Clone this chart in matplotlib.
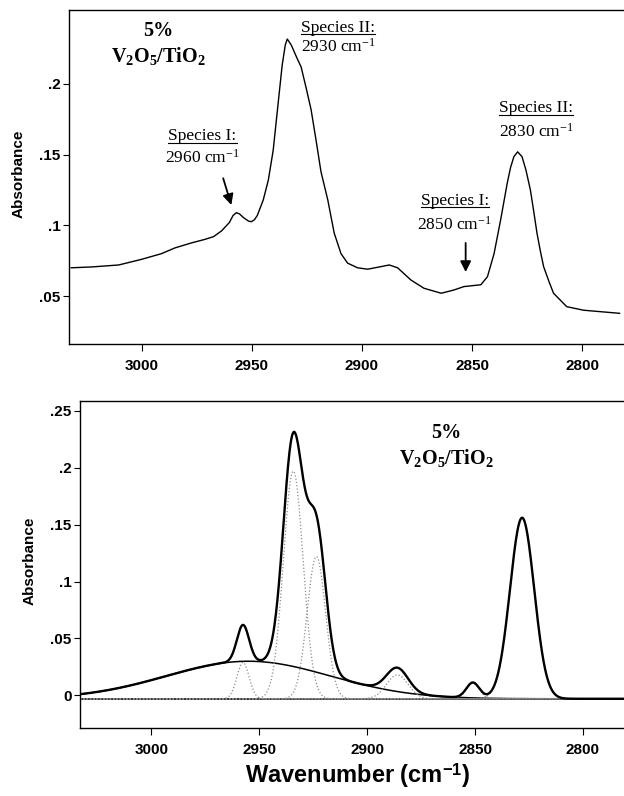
"""Recreate the V2O5/TiO2 C-H stretch spectrum with its peak deconvolution."""

import matplotlib
matplotlib.use("Agg")
import matplotlib.pyplot as plt
from matplotlib.lines import Line2D
from matplotlib.ticker import FuncFormatter
import numpy as np

plt.rcParams["font.family"] = ["Liberation Sans", "DejaVu Sans"]
plt.rcParams["mathtext.fontset"] = "custom"
plt.rcParams["mathtext.rm"] = "Liberation Serif"
plt.rcParams["mathtext.it"] = "Liberation Serif:italic"
plt.rcParams["mathtext.bf"] = "Liberation Serif:bold"
plt.rcParams["mathtext.sf"] = "Liberation Sans:bold"

spec_wn = [3032, 3022.6, 3010.4, 3000, 2991, 2985, 2977.4, 2971.5, 2967.4, 2963.8,
           2960.2, 2958.5, 2957, 2955.5, 2953.8, 2951.5, 2950.2, 2948.8, 2947.5, 2944.8,
           2942.5, 2940.3, 2938, 2936.2, 2934.8, 2933.9, 2932.1, 2929.4, 2927.6, 2925.3,
           2923.1, 2920.8, 2918.6, 2915.5, 2912.6, 2909.5, 2906.5, 2902, 2897.4, 2891.4,
           2887.6, 2883.8, 2877.8, 2871.8, 2864, 2858.2, 2853.7, 2846, 2843, 2840,
           2838.5, 2837, 2835.5, 2834, 2832.5, 2831, 2829.3, 2827.3, 2825.5, 2823.5,
           2822, 2820.5, 2819, 2817.5, 2815, 2813, 2807, 2799.4, 2792, 2783]
spec_abs = [0.070, 0.0706, 0.072, 0.076, 0.080, 0.084, 0.0876, 0.090, 0.092, 0.096,
            0.102, 0.107, 0.109, 0.108, 0.1055, 0.103, 0.1026, 0.104, 0.107, 0.118,
            0.132, 0.153, 0.187, 0.2134, 0.2276, 0.2318, 0.2276, 0.218, 0.212, 0.197,
            0.182, 0.160, 0.138, 0.118, 0.0946, 0.080, 0.0733, 0.070, 0.069, 0.0708,
            0.072, 0.070, 0.0614, 0.0555, 0.052, 0.0543, 0.0567, 0.058, 0.0637, 0.080,
            0.092, 0.104, 0.117, 0.130, 0.141, 0.1486, 0.152, 0.1486, 0.139, 0.125,
            0.110, 0.0944, 0.082, 0.0708, 0.060, 0.052, 0.0425, 0.040, 0.039, 0.0378]

# bottom panel: fitted gaussian components (centre, height, sigma)
peak_centre = [2955, 2957.5, 2934.2, 2923.5, 2886, 2851, 2828.2]
peak_height = [0.033, 0.032, 0.200, 0.125, 0.021, 0.0135, 0.159]
peak_sigma = [38, 2.8, 4.6, 4.3, 5.0, 3.0, 5.6]
fit_baseline = -0.003

top_yticks = [0.05, 0.1, 0.15, 0.2]
bot_yticks = [0, 0.05, 0.1, 0.15, 0.2, 0.25]
xticks = [3000, 2950, 2900, 2850, 2800]

TICK_FONT = dict(family="Liberation Sans", weight="bold", size=11)
SERIF = ["Liberation Serif", "DejaVu Serif"]


def abs_fmt(v, _):
    return "0" if abs(v) < 1e-9 else f"{v:g}".lstrip("0")


def style_axes(ax, yticks):
    ax.spines["right"].set_visible(False)
    for s in ("left", "top", "bottom"):
        ax.spines[s].set_linewidth(1.0)
    ax.set_xlim(3033, 2781)
    ax.set_xticks(xticks)
    ax.set_yticks(yticks)
    ax.yaxis.set_major_formatter(FuncFormatter(abs_fmt))
    ax.tick_params(direction="out", length=4, width=0.8, pad=2)
    ax.tick_params(axis="x", length=5, pad=6)
    for lab in ax.get_xticklabels() + ax.get_yticklabels():
        lab.set_fontproperties(TICK_FONT)
    ax.set_ylabel("Absorbance", fontsize=11, fontweight="bold")
    ax.yaxis.set_label_coords(-0.079, 0.51)


def sample_label(ax, x, y1, y2):
    ax.text(x, y1, "5%", family=SERIF, weight="bold", size=14.5, ha="center", va="center")
    ax.text(x, y2, r"V$_\mathbf{2}$O$_\mathbf{5}$/TiO$_\mathbf{2}$", family=SERIF,
            weight="bold", size=14.5, ha="center", va="center")


def main():
    fig = plt.figure(figsize=(6.24, 7.96), dpi=100)
    ax1 = fig.add_axes([0.1106, 0.5682, 0.8894, 0.4192])
    ax2 = fig.add_axes([0.1282, 0.0854, 0.8718, 0.4108])

    # --- top: raw spectrum ---
    ax1.plot(spec_wn, spec_abs, color="black", lw=1.0)
    ax1.set_ylim(0.0163, 0.2523)
    style_axes(ax1, top_yticks)
    sample_label(ax1, 2992.3, 0.2375, 0.2198)

    species = [
        ("Species I:", 2972.4, 0.1632, 0.1477, "2960"),
        ("Species II:", 2910.9, 0.2396, 0.2262, "2930"),
        ("Species II:", 2820.8, 0.1830, 0.1660, "2830"),
        ("Species I:", 2857.9, 0.1173, 0.1003, "2850"),
    ]
    titles = []
    for name, x, y1, y2, wn in species:
        t = ax1.text(x, y1, name, family=SERIF, size=12.5, ha="center", va="center")
        titles.append(t)
        ax1.text(x, y2, wn + r" cm$^{-1}$", family=SERIF, size=12.5, ha="center", va="center")

    arrow = dict(arrowstyle="-|>", color="black", lw=1.3, mutation_scale=16, shrinkA=0, shrinkB=0)
    ax1.annotate("", xy=(2959.3, 0.1144), xytext=(2963.0, 0.1333), arrowprops=arrow)
    ax1.annotate("", xy=(2852.9, 0.0670), xytext=(2852.9, 0.0876), arrowprops=arrow)

    # --- bottom: deconvolution ---
    wn = np.linspace(3033, 2781, 1500)
    comps = [h * np.exp(-((wn - c) ** 2) / (2 * s ** 2))
             for c, h, s in zip(peak_centre, peak_height, peak_sigma)]
    total = fit_baseline + np.sum(comps, axis=0)

    ax2.axhline(fit_baseline, color="black", lw=1.1)
    for i, comp in enumerate(comps):
        if i == 0:
            ax2.plot(wn, fit_baseline + comp, color="black", lw=1.1)
        else:
            ax2.plot(wn, fit_baseline + comp, color="#8c8c8c", lw=0.9, ls=":")
    ax2.plot(wn, total, color="black", lw=1.7)
    ax2.set_ylim(-0.0287, 0.2587)
    style_axes(ax2, bot_yticks)
    sample_label(ax2, 2863.2, 0.2307, 0.2088)

    ax2.set_xlabel(r"Wavenumber (cm$^{\mathsf{-1}}$)", fontsize=17, fontweight="bold")
    ax2.xaxis.set_label_coords(0.51, -0.144)
    ax2.xaxis.label.set_va("center")

    # underline the species titles
    fig.canvas.draw()
    inv = fig.transFigure.inverted()
    for t in titles:
        bb = t.get_window_extent()
        (x0, y0), (x1, _) = inv.transform([(bb.x0, bb.y0 + 1.5), (bb.x1, bb.y0 + 1.5)])
        fig.add_artist(Line2D([x0, x1], [y0, y0], color="black", lw=0.8,
                              transform=fig.transFigure))

    fig.savefig("out.png", dpi=100)
    plt.close(fig)


if __name__ == "__main__":
    main()
